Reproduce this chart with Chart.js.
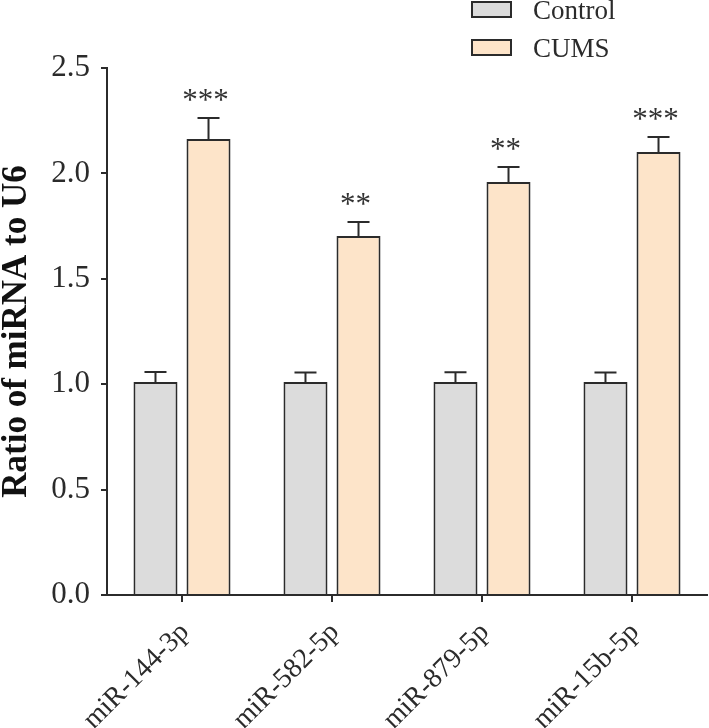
<!DOCTYPE html>
<html>
<head>
<meta charset="utf-8">
<script src="https://cdn.jsdelivr.net/npm/chart.js@4/dist/chart.umd.min.js"></script>
<style>
  html, body { margin: 0; padding: 0; background: #fff; }
  #wrap { width: 709px; height: 728px; }
</style>
</head>
<body>
<div id="wrap"><canvas id="chart" width="709" height="728"></canvas></div>
<script>
// data
const categories = ["miR-144-3p", "miR-582-5p", "miR-879-5p", "miR-15b-5p"];
const controlMeans = [1.01, 1.01, 1.01, 1.01];
const controlErrors = [0.048, 0.045, 0.047, 0.045];
const cumsMeans = [2.163, 1.703, 1.959, 2.102];
const cumsErrors = [0.10, 0.066, 0.071, 0.071];
const stars = ["***", "**", "**", "***"];
const yTicks = [0, 0.5, 1.0, 1.5, 2.0, 2.5];

const serif = "'Liberation Serif', 'Times New Roman', serif";
const ink = "#2b2b2b";

const errors = [controlErrors, cumsErrors];

// error bars + significance marks
const errorBars = {
  id: "errorBars",
  afterDatasetsDraw(chart) {
    const ctx = chart.ctx;
    const y = chart.scales.y;
    ctx.save();
    ctx.strokeStyle = ink;
    ctx.lineWidth = 2;
    chart.data.datasets.forEach((ds, i) => {
      const meta = chart.getDatasetMeta(i);
      meta.data.forEach((bar, j) => {
        const top = y.getPixelForValue(ds.data[j] + errors[i][j]);
        ctx.beginPath();
        ctx.moveTo(bar.x, bar.y);
        ctx.lineTo(bar.x, top);
        ctx.moveTo(bar.x - 11, top);
        ctx.lineTo(bar.x + 11, top);
        ctx.stroke();
      });
    });
    // stars over CUMS bars
    const meta = chart.getDatasetMeta(1);
    ctx.fillStyle = "#333";
    ctx.font = "31px " + serif;
    ctx.textAlign = "center";
    ctx.textBaseline = "alphabetic";
    meta.data.forEach((bar, j) => {
      const top = y.getPixelForValue(cumsMeans[j] + cumsErrors[j]);
      ctx.fillText(stars[j], bar.x - 3, top - 8);
    });
    ctx.restore();
  }
};

// legend in the top right corner
const cornerLegend = {
  id: "cornerLegend",
  afterDraw(chart) {
    const ctx = chart.ctx;
    ctx.save();
    ctx.font = "27px " + serif;
    ctx.textBaseline = "middle";
    ctx.textAlign = "left";
    chart.data.datasets.forEach((ds, i) => {
      const yTop = 2 + i * 38;
      ctx.fillStyle = ds.backgroundColor;
      ctx.fillRect(472, yTop, 39, 15);
      ctx.strokeStyle = ink;
      ctx.lineWidth = 2;
      ctx.strokeRect(472, yTop, 39, 15);
      ctx.fillStyle = ink;
      ctx.fillText(ds.label, 533, yTop + 10);
    });
    ctx.restore();
  }
};

new Chart(document.getElementById("chart"), {
  type: "bar",
  data: {
    labels: categories,
    datasets: [
      {
        label: "Control",
        data: controlMeans,
        backgroundColor: "#dcdcdc",
        borderColor: ink,
        borderWidth: 2,
        borderSkipped: "bottom"
      },
      {
        label: "CUMS",
        data: cumsMeans,
        backgroundColor: "#fde4c9",
        borderColor: ink,
        borderWidth: 2,
        borderSkipped: "bottom"
      }
    ]
  },
  options: {
    responsive: false,
    animation: false,
    devicePixelRatio: 1,
    categoryPercentage: 0.707,
    barPercentage: 0.83,
    layout: { padding: { top: 68, right: 2, left: 0, bottom: 0 } },
    plugins: {
      legend: { display: false },
      tooltip: { enabled: false }
    },
    scales: {
      x: {
        afterFit: s => { s.height = 133; },
        grid: {
          offset: false,
          drawOnChartArea: false,
          drawTicks: true,
          tickLength: 7,
          color: ink,
          lineWidth: 2
        },
        border: { display: true, color: ink, width: 2 },
        ticks: {
          autoSkip: false,
          maxRotation: 45,
          minRotation: 45,
          padding: 14,
          labelOffset: 3,
          color: ink,
          font: { family: serif, size: 28 }
        }
      },
      y: {
        min: 0,
        max: 2.5,
        afterFit: s => { s.width = 107; },
        afterBuildTicks: s => { s.ticks = yTicks.map(v => ({ value: v })); },
        grid: {
          drawOnChartArea: false,
          drawTicks: true,
          tickLength: 6,
          color: ink,
          lineWidth: 2
        },
        border: { display: true, color: ink, width: 2 },
        ticks: {
          padding: 11,
          color: ink,
          font: { family: serif, size: 31 },
          callback: v => Number(v).toFixed(1)
        },
        title: {
          display: true,
          text: "Ratio of miRNA to U6",
          color: "#111",
          padding: { top: -4, bottom: 0 },
          font: { family: serif, size: 35, weight: "bold" }
        }
      }
    }
  },
  plugins: [errorBars, cornerLegend]
});
</script>
</body>
</html>
